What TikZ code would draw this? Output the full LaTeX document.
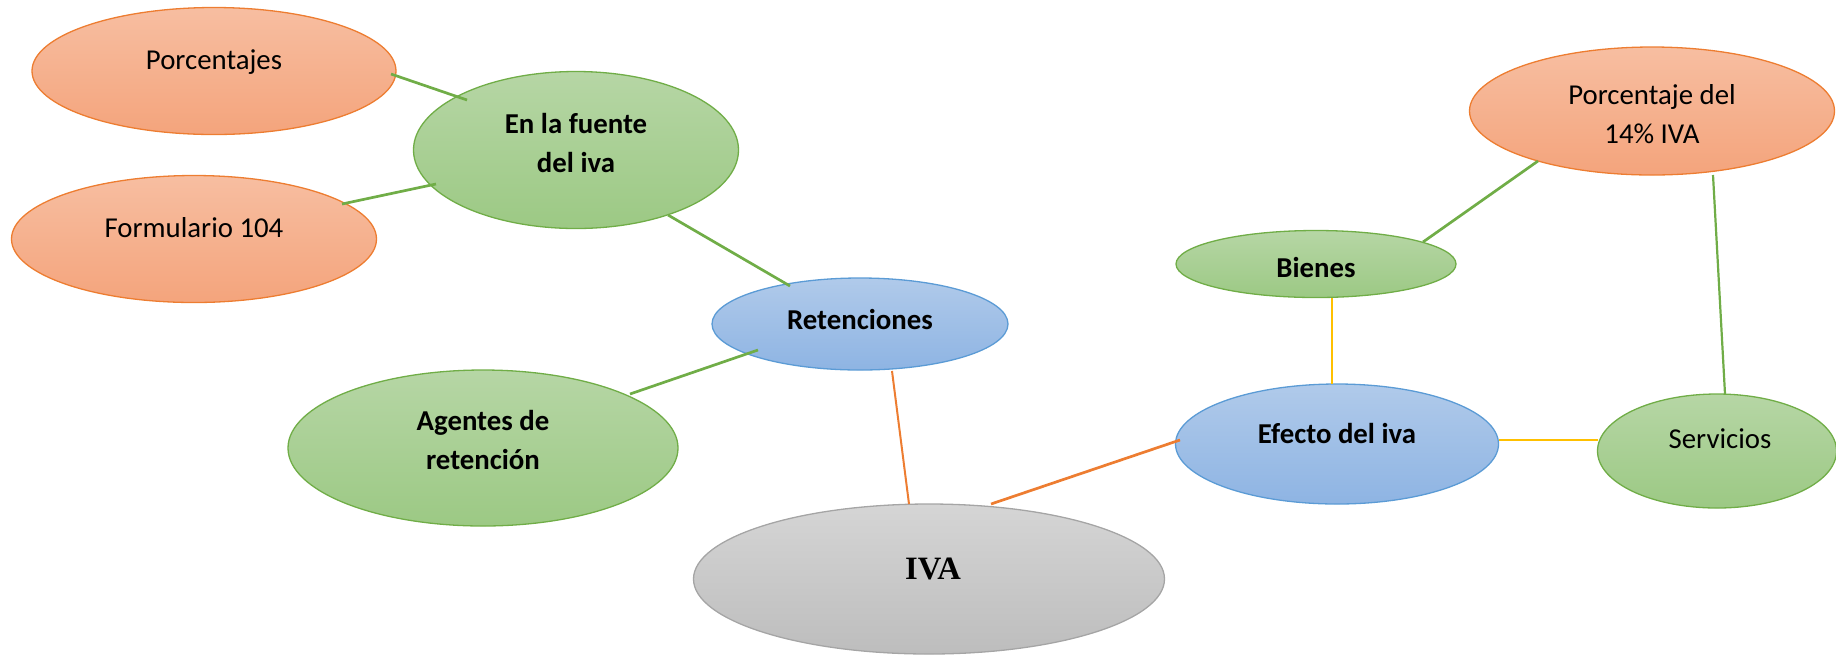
\documentclass[tikz,border=0pt]{standalone}
\usepackage{fontspec}
\setmainfont{Carlito}
\newfontfamily\ivafont{Liberation Serif}
\usetikzlibrary{shapes.geometric,calc}
\definecolor{orTop}{HTML}{F7BEA1}
\definecolor{orBot}{HTML}{F4A47C}
\definecolor{orLine}{HTML}{ED7D31}
\definecolor{grTop}{HTML}{B6D6A5}
\definecolor{grBot}{HTML}{9CC984}
\definecolor{grLine}{HTML}{70AD47}
\definecolor{blTop}{HTML}{B0CAEA}
\definecolor{blBot}{HTML}{8EB4E3}
\definecolor{blLine}{HTML}{5B9BD5}
\definecolor{gyTop}{HTML}{D5D5D5}
\definecolor{gyBot}{HTML}{BDBDBD}
\definecolor{gyLine}{HTML}{A5A5A5}
\definecolor{yeLine}{HTML}{FFC000}
\begin{document}
\begin{tikzpicture}[x=0.5pt,y=-0.5pt,
  ell/.style={ellipse, inner sep=0pt, line width=0.65pt},
  orangeE/.style={ell, draw=orLine, top color=orTop, bottom color=orBot},
  greenE/.style={ell, draw=grLine, top color=grTop, bottom color=grBot},
  blueE/.style={ell, draw=blLine, top color=blTop, bottom color=blBot},
  grayE/.style={ell, draw=gyLine, top color=gyTop, bottom color=gyBot},
  txt/.style={inner sep=0pt, font=\fontsize{14.4}{19.5}\selectfont, align=center},
  btxt/.style={txt, font=\fontsize{14.4}{19.5}\selectfont\bfseries},
  gline/.style={draw=grLine, line width=1.35pt},
  oline/.style={draw=orLine, line width=1.35pt},
  yline/.style={draw=yeLine, line width=1.2pt}
]
\useasboundingbox (0,0) rectangle (1836,655);

% ellipses
\node[orangeE, minimum width=182pt, minimum height=63.5pt] (por) at (214,71) {};
\node[greenE, minimum width=162.5pt, minimum height=78.5pt] (fue) at (576,150) {};
\node[orangeE, minimum width=182.5pt, minimum height=63.5pt] (for) at (194,239) {};
\node[blueE, minimum width=148pt, minimum height=46pt] (ret) at (860,324) {};
\node[greenE, minimum width=195pt, minimum height=78pt] (age) at (483,448) {};
\node[grayE, minimum width=235.5pt, minimum height=75pt] (iva) at (929,579) {};
\node[greenE, minimum width=140pt, minimum height=33.5pt] (bie) at (1316,264) {};
\node[orangeE, minimum width=182.5pt, minimum height=64pt] (p14) at (1652,111) {};
\node[blueE, minimum width=161.5pt, minimum height=60pt] (efe) at (1337,444) {};
\node[greenE, minimum width=119.5pt, minimum height=57pt] (ser) at (1717,451) {};

% connectors
\draw[gline] ($(por)+(177,3)$) -- ($(fue)+(-109,-50)$);
\draw[gline] ($(for)+(148,-35)$) -- ($(fue)+(-140,34)$);
\draw[gline] ($(fue)+(92,65)$) -- ($(ret)+(-70,-38)$);
\draw[gline] ($(age)+(147,-54)$) -- ($(ret)+(-102,26)$);
\draw[oline, line width=1pt] ($(ret)+(32,47)$) -- ($(iva)+(-20,-75)$);
\draw[oline] ($(iva)+(62,-75)$) -- ($(efe)+(-157,-4)$);
\draw[yline] ($(bie)+(16,34)$) -- ($(efe)+(-5,-60)$);
\draw[yline] ($(efe)+(162,-4)$) -- ($(ser)+(-119,-11)$);
\draw[gline] ($(bie)+(107,-22)$) -- ($(p14)+(-114,50)$);
\draw[gline, line width=1.1pt] ($(p14)+(61,64)$) -- ($(ser)+(8,-57)$);

% texts
\node[txt, anchor=base] at ($(por)+(0,-2)$) {Porcentajes};
\node[btxt] at ($(fue)+(0,-7.5)$) {En la fuente\\del iva};
\node[txt, anchor=base] at ($(for)+(0,-2)$) {Formulario 104};
\node[btxt, anchor=base] at ($(ret)+(0,5)$) {Retenciones};
\node[btxt] at ($(age)+(0,-8.5)$) {Agentes de\\retención};
\node[inner sep=0pt, anchor=base, font=\ivafont\fontsize{16.3}{19}\selectfont\bfseries] at ($(iva)+(4,0)$) {IVA};
\node[btxt, anchor=base] at ($(bie)+(0,13)$) {Bienes};
\node[txt] at ($(p14)+(0,3)$) {Porcentaje del\\14\% IVA};
\node[btxt, anchor=base] at ($(efe)+(0,-1)$) {Efecto del iva};
\node[txt, anchor=base] at ($(ser)+(3,-3)$) {Servicios};
\end{tikzpicture}
\end{document}
